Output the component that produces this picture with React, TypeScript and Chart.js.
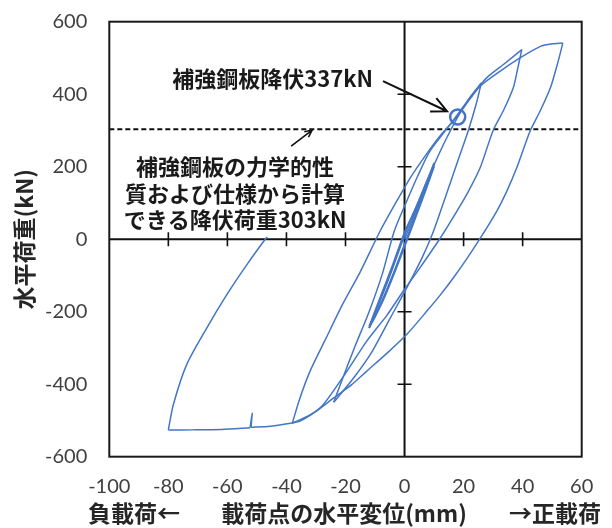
import React, { useEffect, useRef } from 'react';
import { Chart, registerables } from 'chart.js';

Chart.register(...registerables);

// ---- axis settings ----
const xMin = -100;
const xMax = 60;
const yMin = -600;
const yMax = 600;
const xStep = 20;
const yStep = 200;
const innerXTicks = [-80, -60, -40, -20, 20, 40];
const innerYTicks = [-400, -200, 200, 400];

// ---- reference lines / markers ----
const designYieldLoad = 303; // kN (dashed line)
const plateYieldDisp = 18; // mm
const plateYieldLoad = 337; // kN

// ---- texts ----
const yTitle = '水平荷重(kN)';
const xTitleLeft = '負載荷←';
const xTitleCenter = '載荷点の水平変位(mm)';
const xTitleRight = '→正載荷';
const note1 = '補強鋼板降伏337kN';
const note2Lines = ['補強鋼板の力学的性', '質および仕様から計算', 'できる降伏荷重303kN'];

// ---- hysteresis branches: [displacement mm, load kN] ----
const branchInitial: [number, number][] = [[0, 0], [3, 60], [6, 125], [10, 200]];
const branchSmallUnload1: [number, number][] = [[10, 200], [7, 130], [4, 65], [1, 0], [-3, -85], [-7, -165], [-10, -215], [-12, -245]];
const branchSmallLoad1: [number, number][] = [[-12, -245], [-8, -160], [-4, -75], [0, 15], [4, 85], [7, 145], [10, 205]];
const branchSmallUnload2: [number, number][] = [[10, 205], [7, 135], [4, 70], [1, 5], [-3, -80], [-7, -160], [-10, -212], [-12, -240]];
const branchSmallLoad2: [number, number][] = [[-12, -240], [-8, -155], [-4, -70], [0, 20], [4, 90], [7, 150], [10, 210]];
const branchSmallUnload3: [number, number][] = [[10, 210], [7, 140], [4, 72], [1, 8], [-3, -78], [-7, -158], [-10, -210], [-12, -245]];
const branchLoad26: [number, number][] = [[-12, -245], [-8, -165], [-4, -80], [0, 10], [5, 110], [10, 205], [14, 275], [18, 337], [22, 390], [26, 431]];
const branchUnload26: [number, number][] = [[26, 431], [24.5, 380], [21.6, 300], [18, 215], [14, 120], [9.8, 22], [6, -50], [1, -130], [-5, -220], [-11, -310], [-17, -380], [-24, -450]];
const branchLoad40: [number, number][] = [[-24, -450], [-21, -385], [-17, -300], [-12, -200], [-7.5, -95], [-3.5, 22], [1, 110], [4.5, 175], [8.6, 243], [15.4, 316], [22.2, 390], [27.8, 445], [33.5, 482], [39.7, 523]];
const branchUnload40: [number, number][] = [[39.7, 523], [38.3, 470], [36.8, 417], [33.5, 355], [30, 300], [25.6, 197], [21.5, 130], [17.7, 77], [12, 2], [5.2, -79], [-0.4, -143], [-6, -210], [-12.8, -281], [-20, -370], [-27.5, -456], [-32, -485], [-38, -507]];
const branchLoad53: [number, number][] = [[-38, -507], [-35.5, -440], [-32, -364], [-27, -280], [-21, -180], [-15, -90], [-8.3, 22], [-3, 100], [2, 170], [7, 230], [12, 285], [18, 340], [22, 385], [25.6, 422], [32.3, 463], [39.1, 500], [46, 532], [50, 539], [53.6, 541]];
const branchUnload53: [number, number][] = [[53.6, 541], [52, 490], [49.5, 420], [46, 355], [42.5, 298], [38, 197], [34.5, 130], [31.2, 77], [25.6, 2], [21, -55], [16.5, -107], [12, -155], [7.5, -199], [0.7, -263], [-6, -315], [-12.8, -364], [-18, -402], [-24, -438], [-30, -475], [-35.4, -502], [-38, -507], [-45.5, -516], [-52, -519]];
const branchSpike: [number, number][] = [[-52, -519], [-51.6, -480], [-52.3, -520]];
const branchEnvelopeNeg: [number, number][] = [[-52.3, -520], [-62, -525], [-72, -526], [-80, -526]];
const branchFinalUnload: [number, number][] = [[-80, -526], [-78.3, -456], [-73.8, -346], [-67, -245], [-60.2, -153], [-53.4, -70], [-47.2, 0], [-46.5, 6]];

const branches = [
  branchInitial, branchSmallUnload1, branchSmallLoad1, branchSmallUnload2, branchSmallLoad2,
  branchSmallUnload3, branchLoad26, branchUnload26, branchLoad40, branchUnload40,
  branchLoad53, branchUnload53, branchSpike, branchEnvelopeNeg, branchFinalUnload,
];

// annotation anchors in data coordinates
const note1Anchor: [number, number] = [-78.7, 444];
const arrow1Tail: [number, number] = [-7.3, 436];
const arrow1Tip: [number, number] = [14.4, 353];
const arrow2Tail: [number, number] = [-38.4, 257];
const arrow2Tip: [number, number] = [-31.3, 301];
const note2CenterX = -57.4;
const note2LineY = [201, 127, 55];

const BLUE = 'rgb(68,118,198)';
const CJK = '"Noto Sans CJK JP", sans-serif';

function drawArrow(ctx: CanvasRenderingContext2D, x1: number, y1: number, x2: number, y2: number, head: number) {
  const ang = Math.atan2(y2 - y1, x2 - x1);
  ctx.beginPath();
  ctx.moveTo(x1, y1);
  ctx.lineTo(x2, y2);
  ctx.moveTo(x2 - head * Math.cos(ang - 0.45), y2 - head * Math.sin(ang - 0.45));
  ctx.lineTo(x2, y2);
  ctx.lineTo(x2 - head * Math.cos(ang + 0.45), y2 - head * Math.sin(ang + 0.45));
  ctx.stroke();
}

const overlayPlugin = {
  id: 'overlay',
  beforeDatasetsDraw(chart: any) {
    const { ctx, chartArea: a, scales } = chart;
    const sx = scales.x, sy = scales.y;
    const x0 = sx.getPixelForValue(0);
    const y0 = sy.getPixelForValue(0);
    ctx.save();
    ctx.strokeStyle = '#111';
    ctx.lineWidth = 2;
    ctx.beginPath();
    ctx.moveTo(a.left, y0);
    ctx.lineTo(a.right, y0);
    ctx.moveTo(x0, a.top);
    ctx.lineTo(x0, a.bottom);
    ctx.stroke();
    ctx.lineWidth = 1.6;
    ctx.beginPath();
    for (const v of innerXTicks) {
      const px = sx.getPixelForValue(v);
      ctx.moveTo(px, y0 - 7);
      ctx.lineTo(px, y0 + 7);
    }
    for (const v of innerYTicks) {
      const py = sy.getPixelForValue(v);
      ctx.moveTo(x0 - 7, py);
      ctx.lineTo(x0 + 7, py);
    }
    ctx.stroke();
    ctx.restore();
  },
  afterDraw(chart: any) {
    const { ctx, chartArea: a, scales } = chart;
    const sx = scales.x, sy = scales.y;
    const P = (p: [number, number]) => [sx.getPixelForValue(p[0]), sy.getPixelForValue(p[1])];
    ctx.save();
    // frame
    ctx.strokeStyle = '#1a1a1a';
    ctx.lineWidth = 2;
    ctx.strokeRect(a.left, a.top, a.right - a.left, a.bottom - a.top);

    // annotations
    ctx.fillStyle = '#1a1a1a';
    ctx.font = `bold 22px ${CJK}`;
    ctx.textBaseline = 'middle';
    ctx.textAlign = 'left';
    const [n1x, n1y] = P(note1Anchor);
    ctx.fillText(note1, n1x, n1y);
    ctx.textAlign = 'center';
    const cx = sx.getPixelForValue(note2CenterX);
    note2Lines.forEach((t, i) => {
      ctx.fillText(t, cx, sy.getPixelForValue(note2LineY[i]));
    });

    ctx.strokeStyle = '#111';
    ctx.lineWidth = 2;
    const [a1x, a1y] = P(arrow1Tail);
    const [b1x, b1y] = P(arrow1Tip);
    drawArrow(ctx, a1x, a1y, b1x, b1y, 17);
    ctx.lineWidth = 1.6;
    const [a2x, a2y] = P(arrow2Tail);
    const [b2x, b2y] = P(arrow2Tip);
    drawArrow(ctx, a2x, a2y, b2x, b2y, 8);

    // axis titles
    ctx.fillStyle = '#262626';
    ctx.font = `bold 23px ${CJK}`;
    ctx.textAlign = 'center';
    ctx.fillText(xTitleLeft, 134, 513);
    ctx.fillText(xTitleCenter, 344, 513);
    ctx.fillText(xTitleRight, 555, 513);
    ctx.translate(24, (a.top + a.bottom) / 2);
    ctx.rotate(-Math.PI / 2);
    ctx.fillText(yTitle, 0, 0);
    ctx.restore();
  },
};

export default function App() {
  const canvasRef = useRef<HTMLCanvasElement | null>(null);

  useEffect(() => {
    if (!canvasRef.current) return;
    const datasets: any[] = branches.map((b) => ({
      type: 'scatter',
      data: b.map(([x, y]) => ({ x, y })),
      showLine: true,
      borderColor: BLUE,
      borderWidth: 1.5,
      pointRadius: 0,
      tension: 0.25,
      fill: false,
    }));
    datasets.push({
      type: 'scatter',
      data: [{ x: xMin, y: designYieldLoad }, { x: xMax, y: designYieldLoad }],
      showLine: true,
      borderColor: '#111',
      borderWidth: 2,
      borderDash: [5, 3],
      pointRadius: 0,
      fill: false,
    });
    datasets.push({
      type: 'scatter',
      data: [{ x: plateYieldDisp, y: plateYieldLoad }],
      showLine: false,
      pointRadius: 7.5,
      pointStyle: 'circle',
      borderColor: BLUE,
      borderWidth: 2.5,
      backgroundColor: 'rgba(0,0,0,0)',
    });

    const chart = new Chart(canvasRef.current, {
      type: 'scatter',
      data: { datasets },
      options: {
        animation: false,
        responsive: true,
        maintainAspectRatio: false,
        events: [],
        layout: { padding: { left: 0, top: 21.7, right: 30.3, bottom: 0 } },
        plugins: { legend: { display: false }, tooltip: { enabled: false } },
        scales: {
          x: {
            type: 'linear',
            min: xMin,
            max: xMax,
            grid: { display: false, drawTicks: false },
            border: { display: false },
            ticks: {
              stepSize: xStep,
              color: '#404040',
              font: { family: 'Lato', size: 20 },
              padding: 18,
              maxRotation: 0,
            },
            afterFit: (s: any) => {
              s.height = 71.3;
              s.paddingLeft = 0;
              s.paddingRight = 0;
            },
          },
          y: {
            type: 'linear',
            min: yMin,
            max: yMax,
            grid: { display: false, drawTicks: false },
            border: { display: false },
            ticks: {
              stepSize: yStep,
              color: '#404040',
              font: { family: 'Lato', size: 20 },
              padding: 22,
            },
            afterFit: (s: any) => {
              s.width = 109.3;
              s.paddingTop = 0;
              s.paddingBottom = 0;
            },
          },
        },
      },
      plugins: [overlayPlugin],
    } as any);
    return () => chart.destroy();
  }, []);

  return (
    <div style={{ position: 'absolute', left: 0, top: 0, width: 612, height: 528, background: '#fff' }}>
      <canvas ref={canvasRef} />
    </div>
  );
}
